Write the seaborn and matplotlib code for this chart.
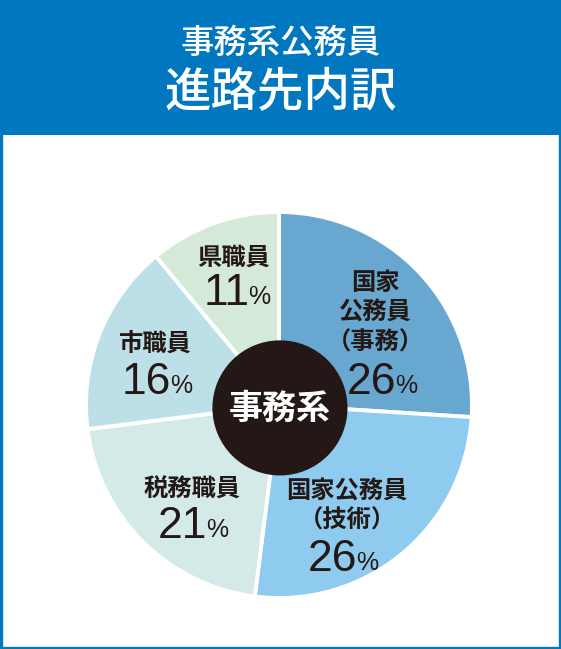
import matplotlib
matplotlib.use("Agg")
import matplotlib.pyplot as plt
import seaborn as sns
from matplotlib.patches import Rectangle, Circle

# data
names = ["国家\n公務員\n（事務）", "国家公務員\n（技術）", "税務職員", "市職員", "県職員"]
shares = [26, 26, 21, 16, 11]
colors = ["#68a7cf", "#8fcbee", "#d3eae9", "#bde0e8", "#d5e9d8"]
title_top = "事務系公務員"
title_main = "進路先内訳"
center_label = "事務系"

# label layout in pie units (name block centre, number centre)
name_pos = [(0.497, 0.479), (0.352, -0.523), (-0.451, -0.440), (-0.642, 0.311), (-0.238, 0.762)]
num_pos = [(0.534, 0.119), (0.332, -0.803), (-0.446, -0.632), (-0.632, 0.114), (-0.228, 0.580)]

sns.set_theme(style="white")
plt.rcParams['font.family'] = ['Noto Sans CJK JP', 'DejaVu Sans']

W, H = 561, 649
fig = plt.figure(figsize=(W / 100, H / 100), dpi=100)
fig.patch.set_facecolor("white")

blue = "#0077be"
ink = "#231815"

# header band and frame
fig.patches.append(Rectangle((0, 1 - 135 / H), 1, 135 / H, transform=fig.transFigure,
                             facecolor=blue, edgecolor="none", zorder=0))
fig.patches.append(Rectangle((1.2 / W, 1.2 / H), 1 - 2.4 / W, 1 - 2.4 / H, transform=fig.transFigure,
                             facecolor="none", edgecolor=blue, linewidth=2.4, zorder=1))

fig.text(0.5, 1 - 43 / H, title_top, color="white", fontsize=24, fontweight="medium",
         ha="center", va="center")
fig.text(0.5, 1 - 93 / H, title_main, color="white", fontsize=33.5, fontweight="medium",
         ha="center", va="center")

# pie
cx, cy, r = 279, 405, 193
ax = fig.add_axes([(cx - r) / W, (H - cy - r) / H, 2 * r / W, 2 * r / H])
ax.pie(shares, colors=sns.color_palette(colors), startangle=90, counterclock=False,
       radius=1, wedgeprops=dict(edgecolor="white", linewidth=2.8, clip_on=False))
ax.set_xlim(-1, 1)
ax.set_ylim(-1, 1)
ax.set_aspect("equal")
ax.axis("off")

ax.add_patch(Circle((0.005, -0.015), 0.35, facecolor=ink, edgecolor="none", zorder=5))
ax.text(0.005, -0.015, center_label, color="white", fontsize=24.5, fontweight="bold",
        ha="center", va="center", zorder=6)

num_font = ['Liberation Sans Narrow', 'Liberation Sans', 'DejaVu Sans']
for name, val, (nx, ny), (px, py) in zip(names, shares, name_pos, num_pos):
    ax.text(nx, ny, name, color=ink, fontsize=17.5, fontweight="bold",
            ha="center", va="center", linespacing=1.3, zorder=4)
    split = px + 0.075
    ax.text(split, py, str(val), color=ink, fontsize=32, family=num_font,
            ha="right", va="center", zorder=4)
    ax.text(split - 0.008, py - 0.018, "%", color=ink, fontsize=18, family=num_font,
            ha="left", va="center", zorder=4)

fig.savefig("out.png", dpi=100)
